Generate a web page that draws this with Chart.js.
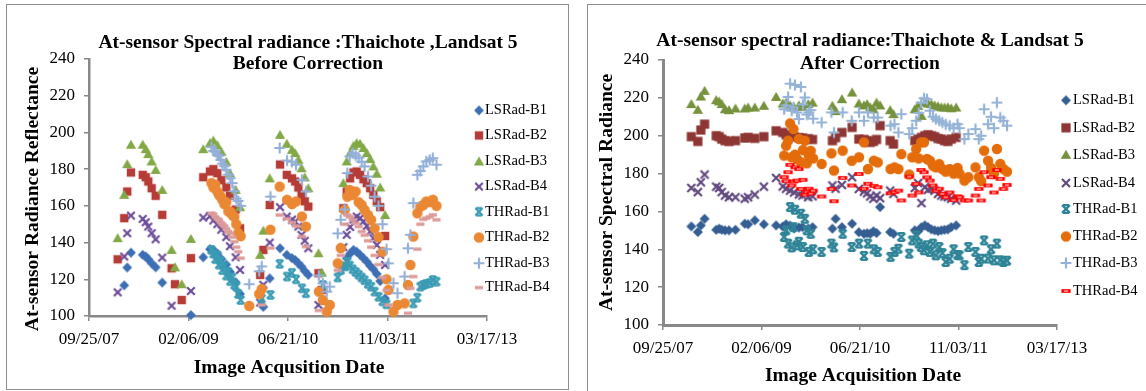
<!DOCTYPE html>
<html><head><meta charset="utf-8">
<script src="https://cdn.jsdelivr.net/npm/chart.js@4.4.1/dist/chart.umd.min.js"></script>
<style>
html,body{margin:0;padding:0;background:#fff;}
body{width:1146px;height:391px;position:relative;overflow:hidden;}
.panel{position:absolute;border:1.5px solid #8e8e8e;box-sizing:border-box;background:#fff;}
#p1{left:6px;top:4px;width:563px;height:386px;}
#p2{left:587px;top:4px;width:600px;height:430px;}
canvas{position:absolute;top:0;}
#c1{left:0;} #c2{left:573px;}
</style></head><body>
<div class="panel" id="p1"></div><div class="panel" id="p2"></div>
<canvas id="c1" width="573" height="391"></canvas>
<canvas id="c2" width="573" height="391"></canvas>
<script>
// ---------- DATA ----------
const seriesNames = ['LSRad-B1','LSRad-B2','LSRad-B3','LSRad-B4','THRad-B1','THRad-B2','THRad-B3','THRad-B4'];
const xTickDates = [39350, 39850, 40350, 40850, 41350];           // Excel date serials
const xTickLabels = ['09/25/07', '02/06/09', '06/21/10', '11/03/11', '03/17/13'];
const yTickValues = [100, 120, 140, 160, 180, 200, 220, 240];

// Landsat 5 acquisition dates (Excel serials)
const lsDates = [39494,39527,39542,39561,39620,39635,39648,39665,39685,39718,39765,39782,39816,39862,
  39924,39958,39975,39995,40015,40040,40058,40087,40109,
  40210,40226,40258,40310,40344,40370,40386,40402,40418,40434,40452,40503,40520,
  40628,40645,40662,40679,40695,40712,40729,40746,40763,40779,40796,40813,40838];
// Thaichote acquisition dates (Excel serials)
const thDates = [39965,39975,39985,39995,40003,40012,40020,40030,40040,40050,40060,40070,40080,40090,40100,40112,
  40155,40205,40218,40262,40308,40345,40370,40390,40420,40440,
  40505,40525,40545,40560,
  40600,40615,40635,40648,40660,40675,40690,40705,40720,40735,40752,40768,40785,40805,40825,40845,
  40855,40880,40900,40936,40953,40965,40980,41000,41015,41030,41045,41062,41078,41096];

// Before correction
const lsB1Before = [null,116.7,126.4,134.5,133.3,132.4,130.9,128.7,126.5,118.2,null,null,null,100.5,
  132,136.4,136,134,131,128,124,118.4,112,
  null,105,120.5,136.9,133.3,131.5,130.5,128.7,126.9,124.5,122.4,null,null,
  126.9,131.5,134,136,135,133.3,131.5,129.6,127.3,125.5,122.9,119,109.6];
const lsB2Before = [130.9,153.3,167.8,178.2,176.9,175.6,173.3,169.6,165.5,155.1,126,117.3,108.7,131.5,
  175.6,178.7,180,177.8,174,170,165.5,158,147.8,
  122.4,136,160.5,182.5,176.9,175,173.3,170,166,162.5,159.6,123.3,114.2,
  158.7,167.8,175,178.2,178.7,176.9,174.5,172.4,169.6,166,162.4,159.3,143.6];
const lsB3Before = [142.4,166,182.7,193.3,193.3,190.9,188.2,184.2,179.6,168.7,136,126.5,117.3,142,
  190.9,194.2,195.6,193,189.5,184,177.8,168.7,159.3,
  133.3,146.5,175,198.7,193.8,190.5,188.7,185.1,180.5,175.5,169.6,134.2,123.6,
  172.4,184.2,188.7,192.7,194.2,193.8,191.5,188.7,185.5,181.5,177.5,170,155];
const lsB4Before = [112.9,132.4,145.1,154.7,152.9,151.1,148.7,145.1,141.8,131.8,105.6,null,null,113.6,
  153.6,154.5,152,150,147,143,138,132,125.1,
  107.3,117,140,159.3,154.2,152.5,151.5,148.7,144.2,141,136.9,106,null,
  137.5,144.2,148.5,152.5,154.2,153.3,151.5,149,146,142.4,138.7,133.3,127.8];
const thB1Before = [136,134,131,133,128,130,125,127,122,124,119,121,117,116,112,108.7,
  null,null,109.5,111.5,128.4,121.5,123.5,120,115.1,112.4,
  null,116.9,null,null,
  121,125,127,129.5,127.5,125.5,124,122.5,121,119.5,117.5,116,113.3,110.5,108,106.4,
  null,null,null,null,null,null,106.9,110,116,116.9,117.5,118,119.6,118.7];
const thB2Before = [172.4,170,171.5,167.8,166,165.1,163.3,161,162,157,156.9,155.1,154,150,145.2,143.5,
  105.5,112,114.7,147,170.5,163.3,161,162.4,154.2,148.7,
  113.3,108.7,102.4,106,
  128.7,137,157.8,165,168.7,166,167.8,162,160.5,157.8,155,152.4,147.8,143,135,120,
  114.2,102.4,106,106.9,116.9,127.8,143.3,156,159.6,160.5,162.4,162,163.3,160];
const thB3Before = [192,190,189.6,188,187.3,185,183,181.6,179.6,177,175.1,172.4,168,164,162.7,160,
  117.3,124.4,127,165,191.5,184.7,184,182.4,174.2,167.8,
  122,117.8,113.3,116,
  145,152.4,158,177.8,186.9,188.7,187.5,186.2,184,181.5,176,171,165,160,150,136.4,
  128.7,117.9,112.4,121.5,136.9,144.2,161.5,176.9,179,181.5,184.2,185,186,182.4];
const thB4Before = [156,155.5,154,153,152.4,151,150,149,147.5,146,145,143,140.5,137.5,135,131.5,
  null,null,106,137,155,153,151,149,143.3,137.8,
  103,null,null,null,
  124.9,133,150,155,154,152.4,150.5,148.7,146,144,141,137.5,133,128,121,114,
  106,null,null,null,101.5,115.1,121.5,136.4,150,152.7,153.3,154,155.1,152.4];

// After correction
const lsB1After = [152.1,149.1,152.6,156.1,150.3,150.9,150.3,150,150,150.3,153.5,153.2,155.3,153.2,
  152.6,152,153.2,152.5,151,151.5,151.7,151,151.7,
  150.9,156.1,151.7,153.5,149,148.2,148.5,148.2,149.5,148.6,162.3,149.1,148.2,
  150,149.5,151.7,152.6,151.7,150.5,150,149.6,150,150.3,150.5,151.7,152.6];
const lsB2After = [199.5,197,203,206.1,200,199.5,198.2,197.4,197,197.4,198.8,199.1,198.6,199.5,
  202.6,201.7,200.5,200,199.5,199,198.8,198.4,198,
  197.4,199,201.7,204.4,198.2,198,197.4,196.5,197,198,205.3,197.4,195.6,
  197.4,198.2,199.1,200,200.5,200,199.5,198.5,198.2,197.4,197,198.2,199.1];
const lsB3After = [216.7,213.7,220.7,223.7,218.8,218.1,216.7,214,213.5,214.4,214.4,214.9,214.9,215.8,
  220.5,217,217.5,216,215,216,215.3,216.7,217.5,
  215.8,213,219.3,222.8,217,216,216.7,215,214,217.5,216,213.5,211.4,
  214,215.8,210.5,217.5,217,216.7,216,215.5,215,214.9,215,214.5,214.9];
const lsB4After = [172.4,170.2,175.4,179.5,173.1,172.4,170.2,168.4,167.5,167.5,166.7,167.5,168.9,173.1,
  177.7,173.2,172,171,170,169,168.4,167.5,168,
  173.7,172,174,178.1,171.9,170.5,169.6,167.9,166.7,168.4,167,171,169.3,
  172.4,175,164.4,172.8,171.4,172,171,169.3,168.4,167.9,167.5,166.7,165.8];
const thB1After = [146.5,150,143,162.3,141,151.7,160.9,142.1,144,158.8,141.2,156.1,150,138.6,148.2,140,
  138.6,143,141,148.2,141.2,143,136.5,143,140,138.6,
  136,138.6,140.3,146.5,
  137.7,144.7,147.4,143,141.2,139.5,142.1,138.6,143,136.8,141.2,138,133.3,135,140,137,
  136.8,131.6,141.2,138.6,133.3,135,144.7,135.1,140,134.2,143,134.2,133.3,134];
const thB2After = [189.5,194.7,197.4,206.5,188.6,203.5,190,187.7,198.3,186,192.4,197.4,185.4,189.4,192,188,
  185.1,190.7,181.6,192.1,186.8,188.6,196.5,182.4,186.8,185.9,
  182.4,183.3,182.4,190.3,
  179.5,188.6,193,188,196.5,196.5,187.7,186.8,184.2,183.3,185,182.4,181,182.4,180,183,
  180,176.3,178.1,183.3,178.1,176,192.1,186.8,183,180,193,185.1,182.4,181];
const thB3After = [214,216,220.5,227.5,213.2,215,226.8,212.3,208.8,225.8,216.5,220.2,211.2,212.3,213.5,209,
  207,212.3,201.7,212.3,207.9,212.3,207.9,212.3,209.6,209.6,
  205.3,206.1,201.7,211.4,
  200.9,204,207.9,212,217.5,219.8,219.3,213.2,210,208.8,207.9,207,206,205.3,204,206.1,
  204,198.2,200.9,203.5,198.2,200,214,206.1,210,204,217.5,209.6,207.9,205.3];
const thB4After = [178.1,176,180.7,184.6,173.7,175.8,183.3,176.3,182.4,171.9,176.7,168.9,170.2,172,169.5,171,
  167.9,171.9,165.4,177.7,173.7,179.8,172,174.6,173.5,172.8,
  169.6,170.2,171,165.8,
  178.4,168.4,174.6,170,181.9,180.7,178,176.3,173.7,171,172,169.3,167.5,170,166,168,
  167.5,165.8,165.8,168.4,171.9,165.8,180.7,173.7,178.1,170,181.9,177.2,171.9,174];

// ---------- STYLE ----------
const FONT = '"Liberation Serif", "Times New Roman", serif';
Chart.defaults.font.family = FONT;
Chart.defaults.color = '#000';

function marker(kind, color, s, extra) {
  const c = document.createElement('canvas');
  c.width = 16; c.height = 16;
  const g = c.getContext('2d');
  g.translate(8, 8);
  g.fillStyle = color; g.strokeStyle = color; g.lineWidth = 2.2;
  g.beginPath();
  if (kind === 'diamond') { g.moveTo(0,-s); g.lineTo(s,0); g.lineTo(0,s); g.lineTo(-s,0); g.closePath(); g.fill(); }
  else if (kind === 'square') { g.fillRect(-s,-s,2*s,2*s); }
  else if (kind === 'triangle') { g.moveTo(0,-s); g.lineTo(s*1.05,s*0.8); g.lineTo(-s*1.05,s*0.8); g.closePath(); g.fill(); }
  else if (kind === 'x') { g.moveTo(-s,-s); g.lineTo(s,s); g.moveTo(-s,s); g.lineTo(s,-s); g.stroke(); }
  else if (kind === 'star') { g.moveTo(-s,-s); g.lineTo(s,s); g.moveTo(-s,s); g.lineTo(s,-s); g.moveTo(-s*0.8,-s); g.lineTo(s*0.8,-s); g.moveTo(-s*0.8,s); g.lineTo(s*0.8,s); g.stroke(); }
  else if (kind === 'circle') { g.arc(0,0,s,0,Math.PI*2); g.fill(); }
  else if (kind === 'plus') { g.moveTo(-s,0); g.lineTo(s,0); g.moveTo(0,-s); g.lineTo(0,s); g.stroke(); }
  else if (kind === 'dash') { g.fillRect(-s,-s*0.4,2*s,s*0.8); if (extra) { g.fillStyle = extra; g.fillRect(-s*0.45,-0.6,s*0.9,1.3); } }
  return c;
}

const leftMarkers = [
  marker('diamond','#3D6FB5',4.9), marker('square','#B63C37',4.2), marker('triangle','#83A947',4.9),
  marker('x','#6D4E99',3.8), marker('star','#3A9BB4',3.7), marker('circle','#EA8834',5.2),
  marker('plus','#94B0D8',5.4), marker('dash','#DC9B99',4.1)
];
const rightMarkers = [
  marker('diamond','#355E92',5), marker('square','#8E3634',4.6), marker('triangle','#76923C',5),
  marker('x','#614A7E',4), marker('star','#2F8497',3.9), marker('circle','#E46C0A',5.2),
  marker('plus','#95B3D7',5.4), marker('dash','#FF0000',4.6,'#FFB3B3')
];

const textPlugin = {
  id: 'excelText',
  afterDraw(chart, args, o) {
    const ctx = chart.ctx;
    ctx.save();
    ctx.fillStyle = '#000';
    ctx.textAlign = 'center'; ctx.textBaseline = 'middle';
    ctx.font = 'bold 19.5px ' + FONT;
    o.title.forEach((t, i) => ctx.fillText(t, o.titleX, o.titleY[i]));
    ctx.fillText(o.xTitle, o.xTitlePos[0], o.xTitlePos[1]);
    ctx.save(); ctx.translate(o.yTitlePos[0], o.yTitlePos[1]); ctx.rotate(-Math.PI / 2);
    ctx.fillText(o.yTitle, 0, 0); ctx.restore();
    ctx.font = '14.5px ' + FONT; ctx.textAlign = 'left';
    chart.data.datasets.forEach((ds, i) => {
      const y = o.legendY[i], m = ds.pointStyle;
      ctx.drawImage(m, o.legendMarkerX - m.width / 2, y - m.height / 2);
      ctx.fillText(ds.label, o.legendTextX, y);
    });
    ctx.restore();
  }
};

function makeChart(id, values, markers, lay, txt) {
  const datasets = values.map((vals, i) => {
    const dates = i < 4 ? lsDates : thDates;
    return {
      label: seriesNames[i],
      data: dates.map((d, k) => ({ x: d, y: vals[k] })),
      pointStyle: markers[i], pointRadius: 5, showLine: false,
      order: 8 - i, clip: false
    };
  });
  return new Chart(document.getElementById(id), {
    type: 'scatter',
    data: { datasets },
    options: {
      responsive: false, animation: false, events: [],
      layout: { padding: { left: 0, top: lay.top, right: lay.right, bottom: 0 } },
      plugins: { legend: { display: false }, tooltip: { enabled: false }, excelText: txt },
      scales: {
        x: {
          type: 'linear', min: xTickDates[0], max: xTickDates[xTickDates.length - 1],
          afterBuildTicks: s => { s.ticks = xTickDates.map(v => ({ value: v })); },
          afterFit: s => { s.height = lay.xH; },
          ticks: { autoSkip: false, maxRotation: 0, minRotation: 0, padding: lay.xPad, color: '#000',
                   font: { size: 17 }, callback: (v, i) => xTickLabels[i] },
          grid: { display: true, drawOnChartArea: false, drawTicks: true, tickLength: 5, color: '#898989', lineWidth: 1.5 },
          border: { display: true, color: '#898989', width: lay.bw }
        },
        y: {
          min: yTickValues[0], max: yTickValues[yTickValues.length - 1],
          afterBuildTicks: s => { s.ticks = yTickValues.map(v => ({ value: v })); },
          afterFit: s => { s.width = lay.yW; },
          ticks: { padding: 9, color: '#000', font: { size: 17 } },
          grid: { display: true, drawOnChartArea: false, drawTicks: true, tickLength: 5, color: '#898989', lineWidth: 1.5 },
          border: { display: true, color: '#898989', width: lay.bw }
        }
      }
    },
    plugins: [textPlugin]
  });
}

function draw() {
  makeChart('c1',
    [lsB1Before, lsB2Before, lsB3Before, lsB4Before, thB1Before, thB2Before, thB3Before, thB4Before],
    leftMarkers,
    { top: 59, right: 86, xH: 75, yW: 89, xPad: 8, bw: 2.5 },
    { title: ['At-sensor Spectral radiance :Thaichote ,Landsat 5', 'Before Correction'],
      titleX: 308, titleY: [42.5, 63.5],
      xTitle: 'Image Acqusition Date', xTitlePos: [289, 368],
      yTitle: 'At-sensor Radiance Reflectance', yTitlePos: [33, 199],
      legendMarkerX: 479, legendTextX: 485,
      legendY: [110.4, 135.5, 161.5, 186.6, 211.7, 237.5, 263.2, 287.6] });
  makeChart('c2',
    [lsB1After, lsB2After, lsB3After, lsB4After, thB1After, thB2After, thB3After, thB4After],
    rightMarkers,
    { top: 60, right: 89, xH: 66, yW: 90, xPad: 8.5, bw: 3 },
    { title: ['At-sensor spectral radiance:Thaichote & Landsat 5', 'After Correction'],
      titleX: 297, titleY: [41, 63.5],
      xTitle: 'Image Acquisition Date', xTitlePos: [290, 376],
      yTitle: 'At-sensor Spectral Radiance', yTitlePos: [34, 192.5],
      legendMarkerX: 493, legendTextX: 500,
      legendY: [100.3, 127.8, 154.8, 183, 209, 236.5, 263, 291] });
}
const fontReady = (document.fonts && document.fonts.load)
  ? Promise.all([document.fonts.load('bold 19.5px "Liberation Serif"'), document.fonts.load('17px "Liberation Serif"')]).catch(() => {})
  : Promise.resolve();
fontReady.then(draw);
</script>
</body></html>
